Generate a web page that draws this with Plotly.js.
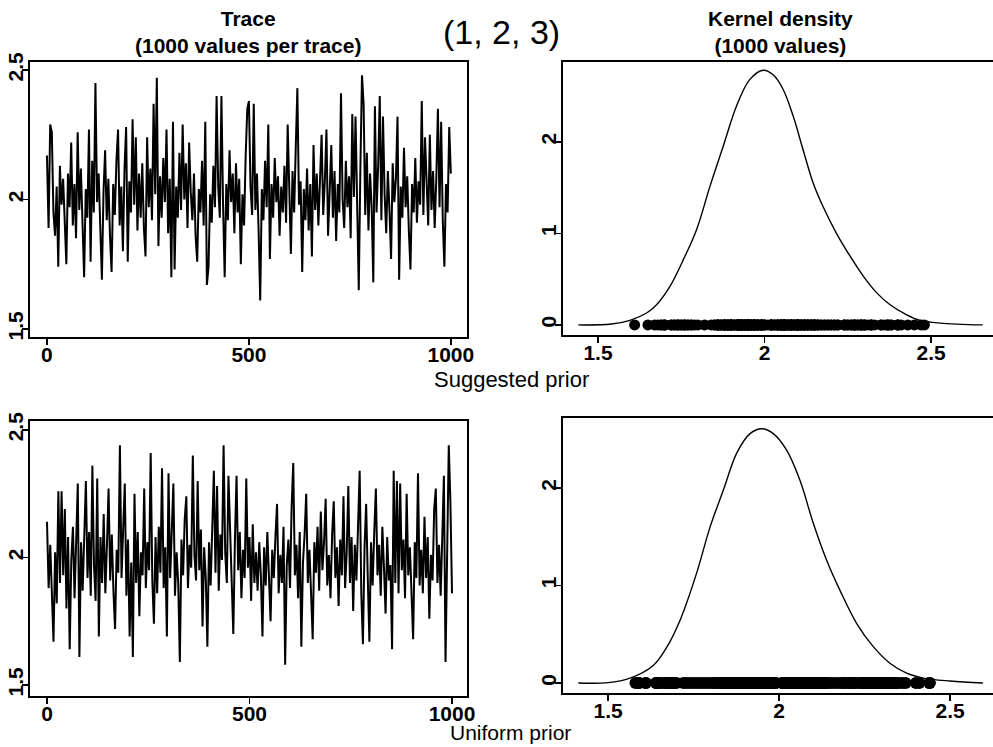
<!DOCTYPE html>
<html><head><meta charset="utf-8">
<script src="https://cdn.plot.ly/plotly-3.0.1.min.js"></script>
<style>
html,body{margin:0;padding:0;overflow:hidden;background:#fff;width:993px;height:747px}
#chart{width:1000px;height:747px}
</style>
</head><body><div id="chart"></div>
<script>
const traceStep = 4;
const suggestedTrace = [
2.17,1.89,2.29,2.26,1.95,1.86,2.05,1.74,2.13,1.98,
2.08,1.92,1.75,2.10,1.97,2.22,1.90,2.06,1.85,2.26,
1.96,2.12,1.88,1.70,2.04,1.93,2.27,1.76,2.15,1.95,
2.45,1.99,2.10,1.90,1.69,2.03,2.19,1.92,2.08,1.86,
1.72,2.06,1.94,2.15,2.27,1.90,2.05,1.80,2.12,2.28,
1.76,2.07,1.95,2.31,1.98,2.24,1.88,2.10,1.93,2.14,
1.89,1.78,2.24,1.97,2.12,1.92,2.37,2.02,2.47,1.82,
2.09,1.93,2.16,1.99,2.27,1.87,2.08,1.70,2.30,1.73,
2.05,1.93,2.18,1.96,2.29,2.00,2.14,1.89,2.22,2.03,
1.92,2.10,1.86,1.76,2.04,1.95,2.15,1.90,2.30,1.67,
1.74,2.02,1.91,2.13,1.97,2.40,2.05,1.93,2.40,1.98,
1.70,2.06,1.92,2.19,1.99,2.10,1.87,2.14,1.95,2.08,
1.75,2.02,1.90,2.17,2.35,2.38,2.05,1.94,2.37,1.96,
2.10,1.88,1.61,2.04,1.92,2.15,1.97,2.29,1.77,2.06,
1.93,2.16,1.99,2.09,1.86,2.05,1.95,2.13,1.91,2.29,
2.00,1.79,2.11,1.95,2.20,2.43,1.98,2.07,1.72,2.04,
1.92,2.12,1.88,2.06,1.78,2.21,1.96,2.10,1.90,2.08,
2.25,1.94,2.07,2.27,1.86,2.03,2.21,1.93,2.11,1.84,
2.06,1.95,2.41,2.00,1.89,2.15,1.97,2.09,1.85,2.33,
2.01,2.32,1.93,1.65,2.12,2.48,2.37,1.94,2.18,1.88,
2.10,1.97,1.68,2.36,1.95,2.13,2.40,1.92,2.32,2.02,
1.87,2.11,1.96,1.77,2.14,1.99,2.08,2.32,1.69,2.05,
1.93,2.20,1.97,2.09,1.88,1.73,2.06,1.95,2.16,1.91,
2.07,1.98,2.38,1.94,2.24,2.02,1.90,2.25,1.96,2.11,
1.89,2.08,2.35,1.97,2.30,1.92,1.74,2.06,1.95,2.28,
2.10];
const uniformTrace = [
2.14,1.88,2.05,1.86,1.67,2.02,1.82,2.26,1.90,2.26,
1.93,2.19,1.80,2.08,1.64,1.99,2.12,1.84,2.03,2.29,
1.61,2.06,1.87,2.14,2.30,1.92,2.10,1.85,2.36,1.97,
1.83,2.31,1.69,2.08,1.90,2.17,1.86,2.05,2.27,1.91,
2.09,1.87,1.72,2.03,1.94,2.44,1.92,2.11,2.29,1.85,
2.07,1.69,1.98,1.61,2.25,1.90,2.10,1.77,2.02,1.93,
2.27,1.88,2.06,1.95,2.41,1.91,1.74,2.08,1.86,2.12,
1.94,2.35,1.88,2.04,1.69,2.33,1.92,2.10,2.29,1.85,
2.02,1.90,1.59,2.07,1.93,2.15,2.24,1.88,2.05,1.96,
2.40,2.01,1.91,2.30,1.95,2.11,1.73,2.04,1.92,1.65,
2.06,1.89,2.13,2.34,1.94,2.28,1.87,2.09,1.99,2.44,
2.02,1.90,2.32,2.12,1.86,1.70,2.07,2.32,1.95,2.10,
1.84,2.03,1.92,2.31,1.96,2.08,1.83,2.13,1.90,2.02,
1.87,2.06,1.93,1.69,2.04,1.89,2.10,1.95,1.75,2.03,
1.92,2.08,2.21,1.86,2.01,1.90,2.12,1.58,1.97,2.07,
1.88,2.20,2.37,1.93,2.05,1.84,2.10,1.65,1.98,2.09,
2.25,1.90,2.03,1.86,1.68,2.06,1.94,2.12,1.87,2.18,
1.95,2.06,2.23,1.89,2.01,1.84,2.09,2.22,1.92,2.04,
1.81,2.07,1.93,2.24,1.88,2.02,2.28,1.90,2.08,1.79,
2.05,1.91,2.13,2.34,1.86,1.66,2.04,2.21,1.92,1.67,
2.06,1.89,2.10,2.27,1.93,2.05,1.85,2.12,1.96,1.78,
2.08,1.91,1.97,1.64,2.34,1.90,2.30,1.86,2.29,1.95,
2.07,1.84,2.25,1.93,2.04,1.81,1.68,2.06,1.92,2.33,
1.89,2.03,1.86,2.16,1.92,2.08,1.76,2.01,1.91,2.19,
2.27,1.90,2.05,1.85,2.09,2.32,1.59,2.10,2.44,2.22,
1.86];

const suggestedDensityX = [1.441,1.541,1.596,1.646,1.676,1.716,1.756,1.796,1.836,1.876,1.916,1.956,1.996,2.026,2.056,2.086,2.116,2.146,2.176,2.216,2.257,2.297,2.337,2.377,2.427,2.467,2.527,2.655];
const suggestedDensityY = [0.00,0.01,0.05,0.13,0.22,0.42,0.71,1.04,1.51,1.95,2.39,2.68,2.78,2.73,2.57,2.28,1.91,1.55,1.29,1.00,0.75,0.53,0.35,0.22,0.11,0.05,0.02,0.00];
const uniformDensityX = [1.413,1.500,1.564,1.632,1.672,1.711,1.759,1.798,1.837,1.876,1.915,1.949,1.983,2.022,2.061,2.100,2.139,2.178,2.227,2.276,2.325,2.373,2.422,2.500,2.596];
const uniformDensityY = [0.00,0.003,0.05,0.18,0.37,0.65,1.13,1.60,1.98,2.36,2.56,2.61,2.56,2.39,2.08,1.64,1.26,0.95,0.61,0.37,0.20,0.10,0.05,0.02,0.00];

const traceTickVals = [0,500,1000];
const traceTickText = ['0','500','1000'];
const valueTickVals = [1.5,2,2.5];
const valueTickText = ['1.5','2','2.5'];
const densTickVals = [0,1,2];
const densTickText = ['0','1','2'];

const F = 'Liberation Sans, Arial, sans-serif';
const W = 1000, H = 747;
const iterS = suggestedTrace.map((_, i) => i * traceStep);
const iterU = uniformTrace.map((_, i) => i * traceStep);
const zeroS = suggestedTrace.map(() => 0);
const zeroU = uniformTrace.map(() => 0);

const line = {color:'#000', width:2};
const data = [
  {type:'scatter', mode:'lines', x:iterS, y:suggestedTrace, xaxis:'x', yaxis:'y', line:line},
  {type:'scatter', mode:'lines', x:suggestedDensityX, y:suggestedDensityY, xaxis:'x2', yaxis:'y2', line:{color:'#000', width:1.4, shape:'spline'}},
  {type:'scatter', mode:'markers', x:suggestedTrace, y:zeroS, xaxis:'x2', yaxis:'y2', marker:{color:'#000', size:11}},
  {type:'scatter', mode:'lines', x:iterU, y:uniformTrace, xaxis:'x3', yaxis:'y3', line:line},
  {type:'scatter', mode:'lines', x:uniformDensityX, y:uniformDensityY, xaxis:'x4', yaxis:'y4', line:{color:'#000', width:1.4, shape:'spline'}},
  {type:'scatter', mode:'markers', x:uniformTrace, y:zeroU, xaxis:'x4', yaxis:'y4', marker:{color:'#000', size:12}}
];

function ax(domain, range, tv, tt, anchor, angle, standoff) {
  return {domain:domain, range:range, tickvals:tv, ticktext:tt, anchor:anchor,
    showline:true, mirror:true, linecolor:'#000', linewidth:1.6,
    ticks:'outside', ticklen:6, tickwidth:1.6, tickcolor:'#000',
    showgrid:false, zeroline:false, tickangle:angle, ticklabelstandoff:standoff,
    tickfont:{family:F, size:21, color:'#000', weight:700}, fixedrange:true};
}
const px = v => v / W, py = v => 1 - v / H;

const layout = {
  width:W, height:H, margin:{l:0,r:0,t:0,b:0}, showlegend:false,
  paper_bgcolor:'#fff', plot_bgcolor:'#fff',
  xaxis: ax([px(30), px(467)], [-42, 1040], traceTickVals, traceTickText, 'y', 0, -8),
  yaxis: ax([py(337), py(62)], [1.469, 2.531], valueTickVals, valueTickText, 'x', -90, -9),
  xaxis2: ax([px(563), 1], [1.395, 2.707], valueTickVals, valueTickText, 'y2', 0, -8),
  yaxis2: ax([py(335), py(62)], [-0.11, 2.87], densTickVals, densTickText, 'x2', -90, -9),
  xaxis3: ax([px(30), px(467)], [-42, 1037], traceTickVals, traceTickText, 'y3', 0, -8),
  yaxis3: ax([py(696), py(421)], [1.457, 2.535], valueTickVals, valueTickText, 'x3', -90, -9),
  xaxis4: ax([px(563), 1], [1.368, 2.646], valueTickVals, valueTickText, 'y4', 0, -8),
  yaxis4: ax([py(693), py(418)], [-0.103, 2.72], densTickVals, densTickText, 'x4', -90, -9),
  annotations: [
    {text:'Trace<br>(1000 values per trace)', x:px(248), y:py(32), xref:'paper', yref:'paper', xanchor:'center', yanchor:'middle', showarrow:false, font:{family:F, size:21, color:'#000', weight:700}},
    {text:'Kernel density<br>(1000 values)', x:px(780), y:py(32), xref:'paper', yref:'paper', xanchor:'center', yanchor:'middle', showarrow:false, font:{family:F, size:21, color:'#000', weight:700}},
    {text:'(1, 2, 3)', x:px(501), y:py(32), xref:'paper', yref:'paper', xanchor:'center', yanchor:'middle', showarrow:false, font:{family:F, size:34, color:'#000'}},
    {text:'Suggested prior', x:px(511), y:py(379), xref:'paper', yref:'paper', xanchor:'center', yanchor:'middle', showarrow:false, font:{family:F, size:22, color:'#000'}},
    {text:'Uniform prior', x:px(510), y:py(732), xref:'paper', yref:'paper', xanchor:'center', yanchor:'middle', showarrow:false, font:{family:F, size:21, color:'#000'}}
  ]
};
Plotly.newPlot('chart', data, layout, {displayModeBar:false, staticPlot:true});
</script>
</body></html>
